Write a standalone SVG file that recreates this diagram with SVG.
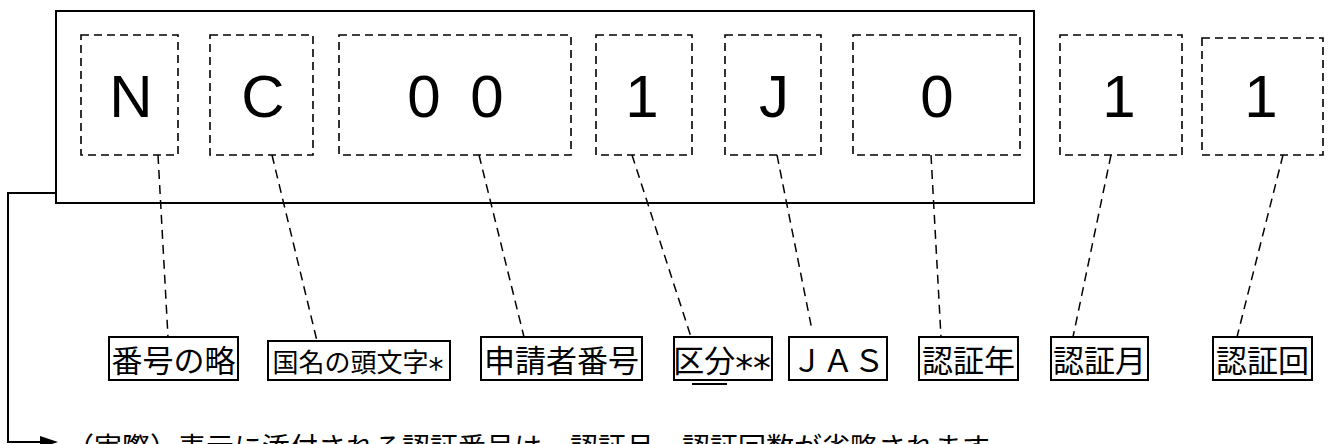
<svg xmlns="http://www.w3.org/2000/svg" width="1330" height="444" viewBox="0 0 1330 444">
<style>
.dbox{fill:none;stroke:#000;stroke-width:1.6;stroke-dasharray:8,5}
.dl{fill:none;stroke:#000;stroke-width:1.5;stroke-dasharray:9,6}
.lbox{fill:#fff;stroke:#000;stroke-width:2}
.big{font-family:"Liberation Sans",Arial,sans-serif;font-size:60px;fill:#000;text-anchor:middle}
.lab{font-family:"Noto Sans CJK JP","Noto Sans CJK SC",sans-serif;font-size:31px;fill:#000;text-anchor:middle}
.ast{font-family:"DejaVu Sans",sans-serif;font-size:1.15em}
.note{font-family:"Noto Sans CJK JP","Noto Sans CJK SC",sans-serif;font-size:28px;fill:#000}
</style>
<rect width="1330" height="444" fill="#fff"/>
<g id="frame">
<rect x="56" y="11" width="978" height="192" fill="none" stroke="#000" stroke-width="2"/>
</g>
<g id="connectors">
<polyline points="56,193 8,193 8,442 44,442" fill="none" stroke="#000" stroke-width="2"/>
<path d="M40,436 L58,442 L40,448 z" fill="#000"/>
<line class="dl" x1="158" y1="155" x2="168" y2="337"/>
<line class="dl" x1="272" y1="155" x2="317" y2="341"/>
<line class="dl" x1="479" y1="155" x2="524" y2="337"/>
<line class="dl" x1="632" y1="155" x2="691" y2="337"/>
<line class="dl" x1="777" y1="155" x2="812" y2="330"/>
<line class="dl" x1="931" y1="155" x2="941" y2="337"/>
<line class="dl" x1="1111" y1="155" x2="1073" y2="337"/>
<line class="dl" x1="1283" y1="155" x2="1237" y2="337"/>
</g>
<g id="n1"><rect class="dbox" x="81" y="35" width="97" height="120"/><text class="big" x="131" y="117">N</text></g>
<g id="n2"><rect class="dbox" x="210" y="35" width="103" height="120"/><text class="big" x="263" y="117">C</text></g>
<g id="n3"><rect class="dbox" x="339" y="35" width="232" height="120"/><text class="big" x="424 455 487" y="117">0 0</text></g>
<g id="n4"><rect class="dbox" x="596" y="35" width="96" height="120"/><text class="big" x="642" y="117">1</text></g>
<g id="n5"><rect class="dbox" x="725" y="35" width="96" height="120"/><text class="big" x="774" y="117">J</text></g>
<g id="n6"><rect class="dbox" x="853" y="35" width="167" height="120"/><text class="big" x="937" y="117">0</text></g>
<g id="n7"><rect class="dbox" x="1060" y="35" width="122" height="120"/><text class="big" x="1119" y="117">1</text></g>
<g id="n8"><rect class="dbox" x="1202" y="38" width="121" height="117"/><text class="big" x="1261" y="117">1</text></g>
<g id="l1"><rect class="lbox" x="109" y="337" width="129" height="43"/><text class="lab" x="173.5" y="372">番号の略</text></g>
<g id="l2"><rect class="lbox" x="268" y="341" width="182" height="39"/><text class="lab" x="358" y="372" style="font-size:26px">国名の頭文字<tspan class="ast" dy="7">*</tspan></text></g>
<g id="l3"><rect class="lbox" x="481" y="337" width="161" height="43"/><text class="lab" x="561.5" y="372">申請者番号</text></g>
<g id="l4"><rect class="lbox" x="674" y="337" width="98" height="43"/><text class="lab" x="722" y="372">区分<tspan class="ast" dy="8">**</tspan></text><line x1="692" y1="384" x2="727" y2="384" stroke="#000" stroke-width="2"/></g>
<g id="l5"><rect class="lbox" x="789" y="337" width="98" height="43"/><text class="lab" x="838" y="372">ＪＡＳ</text></g>
<g id="l6"><rect class="lbox" x="919" y="337" width="99" height="43"/><text class="lab" x="968.5" y="372">認証年</text></g>
<g id="l7"><rect class="lbox" x="1051" y="337" width="97" height="43"/><text class="lab" x="1099.5" y="372">認証月</text></g>
<g id="l8"><rect class="lbox" x="1213" y="337" width="99" height="43"/><text class="lab" x="1262.5" y="372">認証回</text></g>
<g id="note"><text class="note" x="66" y="458">（実際）表示に添付される認証番号は、認証月、認証回数が省略されます</text></g>
</svg>
